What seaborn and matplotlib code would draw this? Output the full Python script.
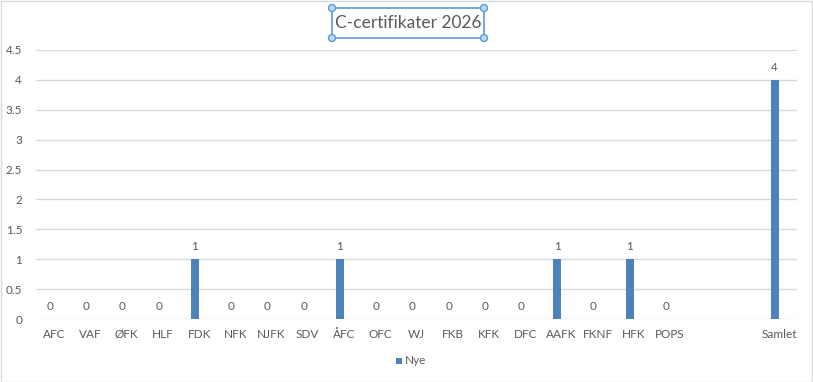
import numpy as np
import pandas as pd
import matplotlib
matplotlib.use("Agg")
import matplotlib.pyplot as plt
import seaborn as sns
from matplotlib.patches import Rectangle

categories = ["AFC", "VAF", "ØFK", "HLF", "FDK", "NFK", "NJFK", "SDV", "ÅFC", "OFC",
              "WJ", "FKB", "KFK", "DFC", "AAFK", "FKNF", "HFK", "POPS", "", " ", "Samlet"]
nye = [0, 0, 0, 0, 1, 0, 0, 0, 1, 0, 0, 0, 0, 0, 1, 0, 1, 0, np.nan, np.nan, 4]
hidden = [np.nan] * len(categories)
series_names = ["Nye", "_skjult"]
title = "C-certifikater 2026"
yticks = [0, 0.5, 1, 1.5, 2, 2.5, 3, 3.5, 4, 4.5]

df = pd.DataFrame({
    "kategori": categories * 2,
    "verdi": nye + hidden,
    "serie": [series_names[0]] * len(categories) + [series_names[1]] * len(categories),
})

sns.set_theme(style="white")
plt.rcParams["font.family"] = ["Lato", "DejaVu Sans"]
GRAY = "#595959"
BLUE = "#4F81BD"

fig = plt.figure(figsize=(8.13, 3.82), dpi=100)
ax = fig.add_axes([36 / 813, 1 - 319 / 382, (797 - 36) / 813, (319 - 50) / 382])

sns.barplot(data=df, x="kategori", y="verdi", hue="serie", order=categories,
            hue_order=series_names, palette=[BLUE, BLUE], width=0.46,
            saturation=1, errorbar=None, legend=False, linewidth=0, ax=ax)

ax.set_ylim(0, 4.5)
ax.set_xlim(-0.5, len(categories) - 0.5)
ax.set_yticks(yticks)
ax.set_yticklabels([f"{t:g}" for t in yticks])
ax.yaxis.grid(True, color="#D9D9D9", linewidth=1)
ax.set_axisbelow(True)
for s in ax.spines.values():
    s.set_visible(False)
ax.tick_params(axis="both", length=0, labelsize=8.5, colors=GRAY)
ax.tick_params(axis="y", pad=10)
ax.tick_params(axis="x", pad=7)
ax.set_xlabel("")
ax.set_ylabel("")

ax.bar_label(ax.containers[0], fmt="{:.0f}", padding=5, fontsize=8.5, color=GRAY)

# title
fig.text(408 / 813, 1 - 23 / 382, title, ha="center", va="center", fontsize=12.5, color=GRAY)

# selection box around title (editing handles)
sel = "#5B9BD5"
x0, x1, y0, y1 = 332 / 813, 484 / 813, 1 - 38 / 382, 1 - 8 / 382
fig.patches.append(Rectangle((x0, y0), x1 - x0, y1 - y0, transform=fig.transFigure,
                             fill=False, edgecolor=sel, linewidth=1.2))
for cx, cy in [(x0, y0), (x0, y1), (x1, y0), (x1, y1)]:
    fig.patches.append(matplotlib.patches.Ellipse((cx, cy), 7 / 813, 7 / 382,
                                                  transform=fig.transFigure,
                                                  facecolor="#BDD7EE", edgecolor=sel, linewidth=1))

# legend
fig.patches.append(Rectangle((396 / 813, 1 - 364 / 382), 6 / 813, 6 / 382,
                             transform=fig.transFigure, facecolor=BLUE, edgecolor="none"))
fig.text(405 / 813, 1 - 360 / 382, series_names[0], ha="left", va="center", fontsize=8.5, color=GRAY)

# outer chart border
fig.patches.append(Rectangle((0.5 / 813, 0.5 / 382), 811.5 / 813, 380.5 / 382,
                             transform=fig.transFigure, fill=False, edgecolor="#D9D9D9", linewidth=1))

fig.savefig("out.png", dpi=100)
